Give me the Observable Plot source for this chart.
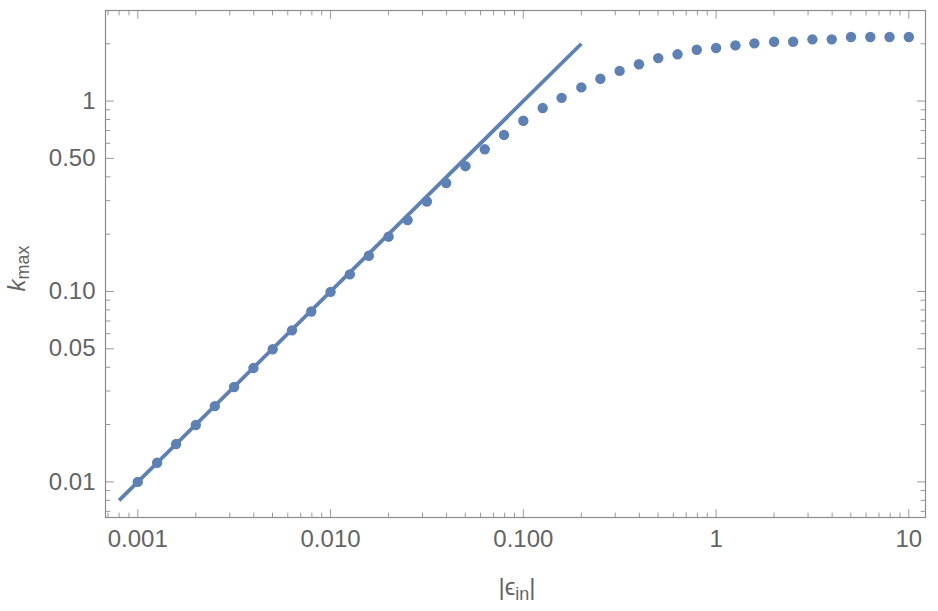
<!DOCTYPE html>
<html>
<head>
<meta charset="utf-8">
<script src="https://cdn.jsdelivr.net/npm/d3@7"></script>
<script src="https://cdn.jsdelivr.net/npm/@observablehq/plot@0.6"></script>
<style>
  html, body { margin: 0; padding: 0; background: #fff; }
  #chart { width: 938px; height: 611px; }
</style>
</head>
<body>
<div id="chart"></div>
<script>
// |epsilon_in| sample values
const eps = [0.001, 0.00126, 0.00158, 0.002, 0.00251, 0.00316, 0.00398, 0.00501, 0.00631, 0.00794,
  0.01, 0.0126, 0.0158, 0.02, 0.0251, 0.0316, 0.0398, 0.0501, 0.0631, 0.0794,
  0.1, 0.126, 0.158, 0.2, 0.251, 0.316, 0.398, 0.501, 0.631, 0.794,
  1, 1.26, 1.58, 2, 2.51, 3.16, 3.98, 5.01, 6.31, 7.94, 10];
// k_max values
const kmax = [0.01, 0.0126, 0.0158, 0.0199, 0.025, 0.0315, 0.0396, 0.0497, 0.0625, 0.0785,
  0.0995, 0.123, 0.154, 0.194, 0.237, 0.297, 0.371, 0.455, 0.558, 0.664,
  0.788, 0.919, 1.04, 1.18, 1.31, 1.44, 1.56, 1.68, 1.76, 1.86,
  1.90, 1.96, 2.01, 2.05, 2.05, 2.11, 2.11, 2.17, 2.17, 2.17, 2.17];
// asymptotic line k = 10 |eps|
const lineX = [0.0008, 0.2];
const lineY = [0.008, 2.0];

const xDomain = [0.00068, 12.2];
const yDomain = [0.0065, 2.99];

const xMajor = [0.001, 0.01, 0.1, 1, 10];
const xLabels = ["0.001", "0.010", "0.100", "1", "10"];
const xMinor = [0.0007, 0.0008, 0.0009,
  0.002, 0.003, 0.004, 0.005, 0.006, 0.007, 0.008, 0.009,
  0.02, 0.03, 0.04, 0.05, 0.06, 0.07, 0.08, 0.09,
  0.2, 0.3, 0.4, 0.5, 0.6, 0.7, 0.8, 0.9,
  2, 3, 4, 5, 6, 7, 8, 9];
const yMajor = [0.01, 0.05, 0.1, 0.5, 1];
const yLabels = ["0.01", "0.05", "0.10", "0.50", "1"];
const yMinor = [0.007, 0.008, 0.009, 0.02, 0.03, 0.04, 0.06, 0.07, 0.08, 0.09,
  0.2, 0.3, 0.4, 0.6, 0.7, 0.8, 0.9, 2];

const blue = "#5E81B5";
const tickColor = "#999999";
const textColor = "#646464";
const W = 938, H = 611, mL = 105, mR = 13, mT = 10, mB = 94;
const MAJ = 8, MIN = 4.5;

const pts = eps.map((x, i) => ({x, y: kmax[i]}));
const seg = lineX.map((x, i) => ({x, y: lineY[i]}));
const xLab = new Map(xMajor.map((v, i) => [v, xLabels[i]]));
const yLab = new Map(yMajor.map((v, i) => [v, yLabels[i]]));

const tickShape = {draw(ctx, l) { ctx.moveTo(0, 0); ctx.lineTo(0, -l); }};
function ticksX(data, anchor, len) {
  return Plot.vector(data, {x: d => d, frameAnchor: anchor, rotate: anchor === "bottom" ? 0 : 180,
    length: len, anchor: "start", shape: tickShape, stroke: tickColor, strokeWidth: 1});
}
function ticksY(data, anchor, len) {
  return Plot.vector(data, {y: d => d, frameAnchor: anchor, rotate: anchor === "left" ? 90 : -90,
    length: len, anchor: "start", shape: tickShape, stroke: tickColor, strokeWidth: 1});
}

const chart = Plot.plot({
  width: W, height: H,
  marginLeft: mL, marginRight: mR, marginTop: mT, marginBottom: mB,
  style: {fontFamily: "'Liberation Sans', Arial, sans-serif", background: "#fff", color: textColor},
  x: {type: "log", domain: xDomain, axis: null},
  y: {type: "log", domain: yDomain, axis: null},
  marks: [
    ticksX(xMajor, "bottom", MAJ), ticksX(xMinor, "bottom", MIN),
    ticksX(xMajor, "top", MAJ), ticksX(xMinor, "top", MIN),
    ticksY(yMajor, "left", MAJ), ticksY(yMinor, "left", MIN),
    ticksY(yMajor, "right", MAJ), ticksY(yMinor, "right", MIN),
    Plot.axisX(xMajor, {anchor: "bottom", tickSize: 0, tickPadding: 12, fontSize: 24,
      tickFormat: d => xLab.get(d), fill: textColor, label: null}),
    Plot.axisY(yMajor, {anchor: "left", tickSize: 0, tickPadding: 10, fontSize: 24,
      tickFormat: d => yLab.get(d), fill: textColor, label: null}),
    Plot.frame({stroke: "#8c8c8c", strokeWidth: 1.2}),
    Plot.line(seg, {x: "x", y: "y", stroke: blue, strokeWidth: 3.8, strokeLinecap: "butt"}),
    Plot.dot(pts, {x: "x", y: "y", r: 5.2, fill: blue, stroke: "none"})
  ]
});

const svg = d3.select(chart);
const font = "'Liberation Sans', Arial, sans-serif";
// x axis title |ϵ_in|
const cx = (mL + (W - mR)) / 2;
const xt = svg.append("text")
  .attr("x", cx + 2).attr("y", H - 16)
  .attr("text-anchor", "middle")
  .attr("font-family", font).attr("font-size", 24).attr("fill", textColor);
xt.append("tspan").text("|ϵ");
xt.append("tspan").attr("font-size", 18).attr("dy", 5).text("in");
xt.append("tspan").attr("dy", -5).text("|");

// y axis title k_max
const cy = (mT + (H - mB)) / 2;
const yt = svg.append("text")
  .attr("transform", `translate(25,${cy + 5}) rotate(-90)`)
  .attr("text-anchor", "middle")
  .attr("font-family", font).attr("font-size", 24).attr("fill", textColor);
yt.append("tspan").attr("font-style", "italic").text("k");
yt.append("tspan").attr("font-size", 18).attr("dy", 4).text("max");

document.getElementById("chart").appendChild(chart);
</script>
</body>
</html>
